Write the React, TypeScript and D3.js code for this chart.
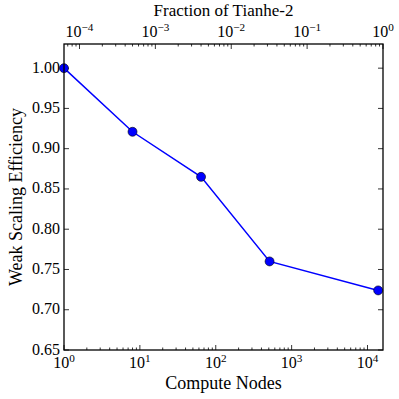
import React from 'react';
import * as d3 from 'd3';

const nodes = [1, 8, 64, 512, 13824];
const efficiency = [1.0, 0.921, 0.865, 0.76, 0.724];
const yTicks = [0.65, 0.7, 0.75, 0.8, 0.85, 0.9, 0.95, 1.0];
const bottomExps = [0, 1, 2, 3, 4];
const topExps = [-4, -3, -2, -1, 0];
const totalNodes = 16000;
const xLabel = 'Compute Nodes';
const yLabel = 'Weak Scaling Efficiency';
const topLabel = 'Fraction of Tianhe-2';

const W = 399, H = 399;
const L = 64, R = 383, T = 44, B = 350;
const FONT = '"Liberation Serif", serif';

function minorTicks(domain: [number, number]) {
  const out: number[] = [];
  const lo = Math.floor(Math.log10(domain[0]));
  const hi = Math.ceil(Math.log10(domain[1]));
  for (let d = lo; d <= hi; d++) {
    for (let k = 2; k <= 9; k++) {
      const v = k * Math.pow(10, d);
      if (v >= domain[0] && v <= domain[1]) out.push(v);
    }
  }
  return out;
}

const txt = (fs: number) => ({ fontFamily: FONT, fontSize: fs + 'px', fill: '#000' });

const Pow = ({ x, y, e, fs }: { x: number; y: number; e: number; fs: number }) => (
  <text x={x} y={y} textAnchor="middle" style={txt(fs)}>
    <tspan>10</tspan>
    <tspan dy={-6} style={{ fontSize: fs * 0.7 + 'px' }}>{e < 0 ? '\u2212' + Math.abs(e) : String(e)}</tspan>
  </text>
);

export default function App() {
  const x = d3.scaleLog().domain([1, totalNodes]).range([L, R]);
  const xt = d3.scaleLog().domain([1 / totalNodes, 1]).range([L, R]);
  const y = d3.scaleLinear().domain([0.65, 1.03]).range([B, T]);
  const line = d3
    .line<number>()
    .x((_, i) => x(nodes[i]))
    .y((d) => y(d));
  const minorB = minorTicks([1, totalNodes]);
  const minorT = minorTicks([1 / totalNodes, 1]);
  const major = 5, minor = 2.5;
  const tickStyle = { stroke: '#000', strokeWidth: 0.8 };
  return (
    <svg width={W} height={H} style={{ position: 'absolute', left: 0, top: 0, background: '#fff' }}>
      <rect x={0} y={0} width={W} height={H} fill="#fff" />
      {bottomExps.map((e) => (
        <g key={'b' + e}>
          <line x1={x(10 ** e)} x2={x(10 ** e)} y1={B} y2={B - major} {...tickStyle} />
          <Pow x={x(10 ** e)} y={368} e={e} fs={16} />
        </g>
      ))}
      {minorB.map((v) => (
        <line key={'bm' + v} x1={x(v)} x2={x(v)} y1={B} y2={B - minor} {...tickStyle} />
      ))}
      {topExps.map((e) => (
        <g key={'t' + e}>
          <line x1={xt(10 ** e)} x2={xt(10 ** e)} y1={T} y2={T + major} {...tickStyle} />
          <Pow x={xt(10 ** e)} y={37} e={e} fs={16} />
        </g>
      ))}
      {minorT.map((v) => (
        <line key={'tm' + v} x1={xt(v)} x2={xt(v)} y1={T} y2={T + minor} {...tickStyle} />
      ))}
      {yTicks.map((v) => (
        <g key={'y' + v}>
          <line x1={L} x2={L + major} y1={y(v)} y2={y(v)} {...tickStyle} />
          <line x1={R} x2={R - major} y1={y(v)} y2={y(v)} {...tickStyle} />
          <text x={L - 4} y={y(v) + 4.5} textAnchor="end" style={txt(16)}>
            {v.toFixed(2)}
          </text>
        </g>
      ))}
      <path d={line(efficiency) || ''} fill="none" stroke="#0000ff" strokeWidth={1.5} />
      {efficiency.map((v, i) => (
        <circle key={'p' + i} cx={x(nodes[i])} cy={y(v)} r={4.5} fill="#0000ff" stroke="#000" strokeWidth={0.6} />
      ))}
      <rect x={L} y={T} width={R - L} height={B - T} fill="none" stroke="#000" strokeWidth={1.3} />
      <text x={(L + R) / 2} y={389} textAnchor="middle" style={txt(18)}>
        {xLabel}
      </text>
      <text x={(L + R) / 2} y={16} textAnchor="middle" style={txt(17)}>
        {topLabel}
      </text>
      <text transform={`translate(22,${(T + B) / 2}) rotate(-90)`} textAnchor="middle" style={txt(18)}>
        {yLabel}
      </text>
    </svg>
  );
}
